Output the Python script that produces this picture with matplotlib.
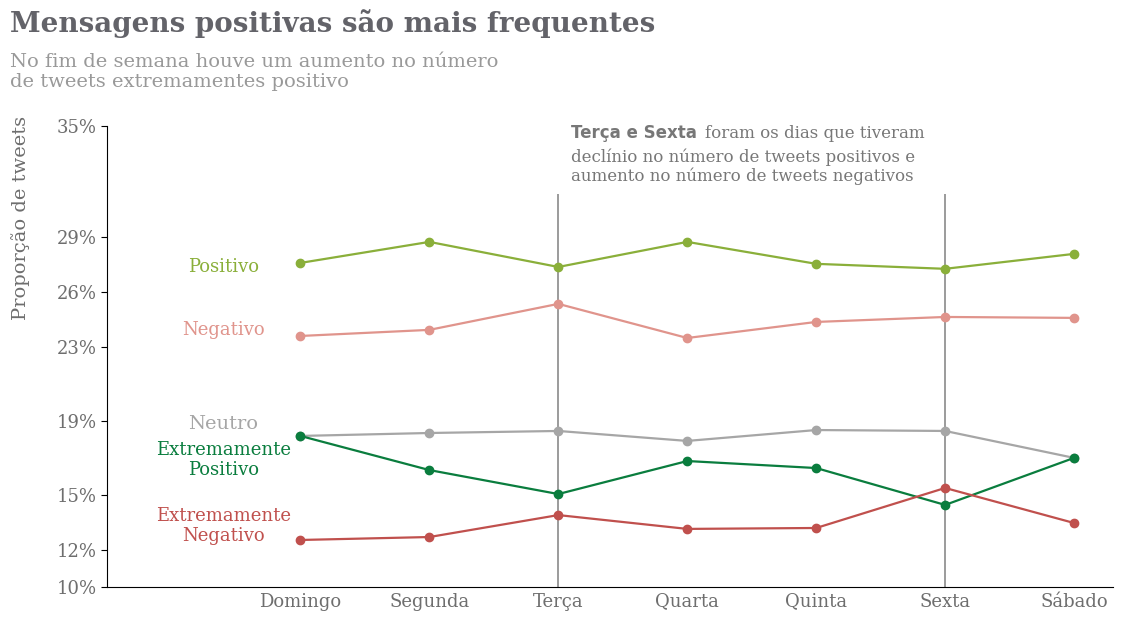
import matplotlib
matplotlib.use("Agg")
import matplotlib.pyplot as plt
from matplotlib.ticker import FuncFormatter

dias = ["Domingo", "Segunda", "Terça", "Quarta", "Quinta", "Sexta", "Sábado"]
positivo = [27.57, 28.71, 27.35, 28.71, 27.52, 27.25, 28.06]
negativo = [23.61, 23.94, 25.35, 23.50, 24.37, 24.64, 24.59]
neutro = [18.19, 18.35, 18.46, 17.92, 18.51, 18.46, 17.00]
extr_positivo = [18.19, 16.34, 15.04, 16.83, 16.45, 14.45, 17.00]
extr_negativo = [12.55, 12.71, 13.90, 13.15, 13.20, 15.37, 13.47]
yticks = [10, 12, 15, 19, 23, 26, 29, 35]

series = [
    ("Positivo", positivo, "#8aaf3a", 27.35, 13),
    ("Negativo", negativo, "#e0948c", 23.95, 13),
    ("Neutro", neutro, "#a6a6a6", 18.85, 14),
    ("Extremamente\nPositivo", extr_positivo, "#0a7d3e", 16.9, 13),
    ("Extremamente\nNegativo", extr_negativo, "#c0504d", 13.3, 13),
]

plt.rcParams['font.family'] = ['DejaVu Serif']
fig = plt.figure(figsize=(11.24, 6.2), dpi=100)
ax = fig.add_axes([0.0952, 0.0532, 0.8948, 0.7438])

x = list(range(len(dias)))
for name, vals, col, ly, fs in series:
    ax.plot(x, vals, color=col, marker="o", markersize=6, linewidth=1.6)
    ax.text(-0.6, ly, name, color=col, fontsize=fs, ha="center", va="center",
            linespacing=1.15)

for xi in (2, 5):
    ax.vlines(xi, 10, 31.3, color="#808080", linewidth=1.1, zorder=0)

ax.set_xlim(-1.5, 6.3)
ax.set_ylim(10, 35)
ax.set_yticks(yticks)
ax.yaxis.set_major_formatter(FuncFormatter(lambda v, p: f"{int(v)}%"))
ax.set_xticks(x)
ax.set_xticklabels(dias)
ax.tick_params(axis="both", colors="#6e6e6e", labelsize=13, length=4)
ax.tick_params(axis="x", length=0, pad=4)
ax.tick_params(axis="y", color="black")
for s in ("top", "right"):
    ax.spines[s].set_visible(False)
ax.set_ylabel("Proporção de tweets", color="#6e6e6e", fontsize=14)
ax.yaxis.set_label_coords(-0.077, 0.80)

fig.text(0.009, 0.962, "Mensagens positivas são mais frequentes", fontsize=20,
         fontweight="bold", color="#636369", va="center")
fig.text(0.009, 0.884, "No fim de semana houve um aumento no número\nde tweets extremamentes positivo",
         fontsize=14, color="#999999", va="center", linespacing=1.1)

ax.text(2.1, 34.6, "Terça e Sexta", fontsize=12, fontweight="bold", color="#777777",
        family="DejaVu Sans", va="center")
ax.text(3.14, 34.6, "foram os dias que tiveram", fontsize=12, color="#777777", va="center")
ax.text(2.1, 32.8, "declínio no número de tweets positivos e\naumento no número de tweets negativos",
        fontsize=12, color="#777777", va="center", linespacing=1.1)

fig.savefig("out.png", dpi=100)
